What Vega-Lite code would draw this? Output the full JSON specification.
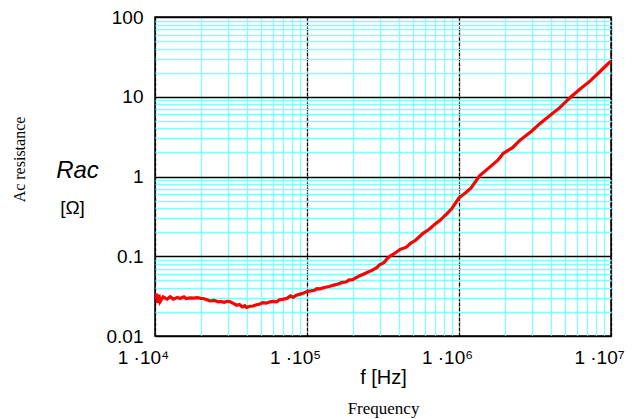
{
  "$schema": "https://vega.github.io/schema/vega-lite/v6.json",
  "width": 456,
  "height": 319,
  "autosize": "none",
  "padding": {"left": 155, "top": 17, "right": 24, "bottom": 83},
  "background": "white",
  "config": {
    "view": {"stroke": "black", "strokeWidth": 1.5},
    "axis": {"labelFont": "Liberation Sans", "titleFont": "Liberation Sans", "labelColor": "black", "titleColor": "black", "titleFontWeight": "normal"}
  },
  "title": {"text": "Ac resistance", "orient": "left", "font": "Liberation Serif", "fontSize": 16, "fontWeight": "normal", "color": "black", "offset": 22, "dy": -6, "dx": 17},
  "data": {"values": [
    {"f": 10000, "R": 0.029}, {"f": 10200, "R": 0.034}, {"f": 10400, "R": 0.026}, {"f": 10600, "R": 0.033}, {"f": 10800, "R": 0.027}, {"f": 11300, "R": 0.031},
    {"f": 12000, "R": 0.029}, {"f": 12600, "R": 0.031}, {"f": 13200, "R": 0.029}, {"f": 14000, "R": 0.0305},
    {"f": 14600, "R": 0.0295}, {"f": 15500, "R": 0.031}, {"f": 16000, "R": 0.0295}, {"f": 17000, "R": 0.030},
    {"f": 18000, "R": 0.0298}, {"f": 19000, "R": 0.0302}, {"f": 20000, "R": 0.0297}, {"f": 21000, "R": 0.0293},
    {"f": 22000, "R": 0.0285}, {"f": 23000, "R": 0.0275}, {"f": 24500, "R": 0.028}, {"f": 26000, "R": 0.0268},
    {"f": 27000, "R": 0.0272}, {"f": 28500, "R": 0.0264}, {"f": 30000, "R": 0.0272}, {"f": 31000, "R": 0.027},
    {"f": 33000, "R": 0.0255}, {"f": 34500, "R": 0.0243}, {"f": 36000, "R": 0.0248}, {"f": 37500, "R": 0.0232},
    {"f": 39000, "R": 0.024}, {"f": 40000, "R": 0.0228}, {"f": 42000, "R": 0.0236}, {"f": 44000, "R": 0.0238},
    {"f": 46000, "R": 0.0245}, {"f": 49000, "R": 0.0252}, {"f": 51000, "R": 0.0262}, {"f": 54000, "R": 0.0258},
    {"f": 57000, "R": 0.0268}, {"f": 60000, "R": 0.0272}, {"f": 63000, "R": 0.0268}, {"f": 66000, "R": 0.0285},
    {"f": 70000, "R": 0.029}, {"f": 74000, "R": 0.0298}, {"f": 78000, "R": 0.0318}, {"f": 81000, "R": 0.0305},
    {"f": 85000, "R": 0.0325}, {"f": 90000, "R": 0.0335}, {"f": 95000, "R": 0.0345}, {"f": 100000, "R": 0.0362},
    {"f": 106000, "R": 0.0368}, {"f": 112000, "R": 0.0375}, {"f": 116000, "R": 0.0392}, {"f": 122000, "R": 0.039},
    {"f": 130000, "R": 0.0405}, {"f": 140000, "R": 0.0418}, {"f": 150000, "R": 0.0435}, {"f": 160000, "R": 0.0448},
    {"f": 170000, "R": 0.047}, {"f": 180000, "R": 0.0475}, {"f": 190000, "R": 0.0505}, {"f": 200000, "R": 0.051},
    {"f": 210000, "R": 0.0538}, {"f": 224000, "R": 0.0575}, {"f": 235000, "R": 0.0595}, {"f": 250000, "R": 0.063},
    {"f": 265000, "R": 0.066}, {"f": 280000, "R": 0.07}, {"f": 290000, "R": 0.073}, {"f": 300000, "R": 0.078},
    {"f": 320000, "R": 0.083}, {"f": 335000, "R": 0.092}, {"f": 350000, "R": 0.1}, {"f": 370000, "R": 0.106},
    {"f": 390000, "R": 0.114}, {"f": 410000, "R": 0.122}, {"f": 450000, "R": 0.13}, {"f": 480000, "R": 0.145},
    {"f": 520000, "R": 0.16}, {"f": 580000, "R": 0.194}, {"f": 630000, "R": 0.215}, {"f": 700000, "R": 0.256},
    {"f": 750000, "R": 0.282}, {"f": 830000, "R": 0.34}, {"f": 900000, "R": 0.4}, {"f": 1000000, "R": 0.54},
    {"f": 1100000, "R": 0.62}, {"f": 1200000, "R": 0.72}, {"f": 1370000, "R": 1.03}, {"f": 1600000, "R": 1.32},
    {"f": 1800000, "R": 1.6}, {"f": 1950000, "R": 1.94}, {"f": 2250000, "R": 2.3}, {"f": 2500000, "R": 2.82},
    {"f": 3000000, "R": 3.7}, {"f": 3400000, "R": 4.6}, {"f": 4000000, "R": 5.9}, {"f": 4600000, "R": 7.3},
    {"f": 5370000, "R": 9.7}, {"f": 6200000, "R": 12.3}, {"f": 7300000, "R": 15.8}, {"f": 8300000, "R": 20},
    {"f": 9550000, "R": 25.9}, {"f": 10000000, "R": 28}
  ]},
  "layer": [
    {
      "mark": {"type": "line", "color": "#ff0000", "strokeWidth": 3.2, "clip": true},
      "encoding": {
        "x": {
          "field": "f", "type": "quantitative",
          "scale": {"type": "log", "domain": [10000, 10000000], "nice": false},
          "axis": {
            "orient": "bottom",
            "values": [10000,20000,30000,40000,50000,60000,70000,80000,90000,100000,200000,300000,400000,500000,600000,700000,800000,900000,1000000,2000000,3000000,4000000,5000000,6000000,7000000,8000000,9000000,10000000],
            "labelExpr": "datum.value == 10000 ? '1 ·10⁴' : datum.value == 100000 ? '1 ·10⁵' : datum.value == 1000000 ? '1 ·10⁶' : datum.value == 10000000 ? '1 ·10⁷' : ''",
            "labelFontSize": 19, "labelPadding": 12, "labelOverlap": false, "labelFlush": false, "labelBound": false, "labelOffset": -12,
            "ticks": false, "domain": false,
            "grid": true,
            "gridColor": {"condition": {"test": "indexof([10000,100000,1000000,10000000], datum.value) >= 0", "value": "black"}, "value": "#80ffff"},
            "gridDash": {"condition": {"test": "indexof([10000,100000,1000000,10000000], datum.value) >= 0", "value": [4, 1]}, "value": []},
            "gridWidth": 1.3, "gridOpacity": 1,
            "title": "f [Hz]", "titleFontSize": 20, "titlePadding": 0
          }
        },
        "y": {
          "field": "R", "type": "quantitative",
          "scale": {"type": "log", "domain": [0.01, 100], "nice": false},
          "axis": {
            "orient": "left",
            "values": [0.01,0.02,0.03,0.04,0.05,0.06,0.07,0.08,0.09,0.1,0.2,0.3,0.4,0.5,0.6,0.7,0.8,0.9,1,2,3,4,5,6,7,8,9,10,20,30,40,50,60,70,80,90,100],
            "labelExpr": "indexof([0.01,0.1,1,10,100], datum.value) >= 0 ? format(datum.value, '~g') : ''",
            "labelFontSize": 19, "labelPadding": 12, "labelOverlap": false, "labelFlush": false, "labelBound": false,
            "ticks": false, "domain": false,
            "grid": true,
            "gridColor": {"condition": {"test": "indexof([0.01,0.1,1,10,100], datum.value) >= 0", "value": "black"}, "value": "#80ffff"},
            "gridWidth": 1.3, "gridOpacity": 1,
            "title": "Rac", "titleFontSize": 24, "titleFontStyle": "italic", "titleAngle": 0,
            "titleAlign": "center", "titleBaseline": "alphabetic", "titleX": -78, "titleY": 160
          }
        }
      }
    },
    {
      "mark": {"type": "line", "strokeOpacity": 0},
      "encoding": {
        "x": {
          "field": "f", "type": "quantitative",
          "scale": {"type": "log", "domain": [10000, 10000000], "nice": false},
          "axis": {"orient": "bottom", "labels": false, "ticks": false, "domain": false, "grid": false,
                   "title": "Frequency", "titleFont": "Liberation Serif", "titleFontSize": 17, "titlePadding": 64}
        },
        "y": {
          "field": "R", "type": "quantitative",
          "scale": {"type": "log", "domain": [0.01, 100], "nice": false},
          "axis": {"orient": "left", "labels": false, "ticks": false, "domain": false, "grid": false,
                   "title": "[Ω]", "titleFontSize": 19, "titleAngle": 0, "titleAlign": "center", "titleBaseline": "middle",
                   "titleX": -83, "titleY": 190}
        }
      }
    }
  ],
  "resolve": {"axis": {"x": "independent", "y": "independent"}}
}
